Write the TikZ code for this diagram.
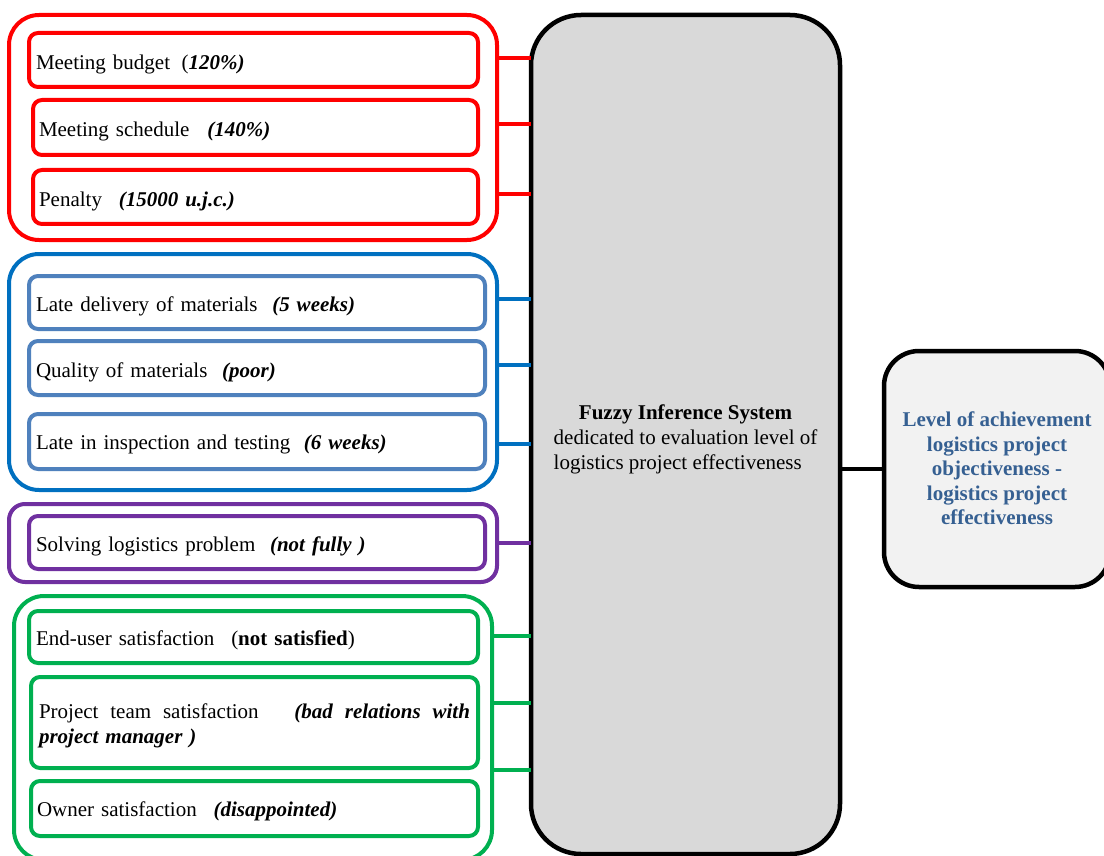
\documentclass[tikz,border=0pt]{standalone}
\usepackage{fontspec}
\setmainfont{Liberation Serif}
\definecolor{cRed}{HTML}{FF0000}
\definecolor{cBlue}{HTML}{0070C0}
\definecolor{cBlueIn}{HTML}{4F81BD}
\definecolor{cPurple}{HTML}{7030A0}
\definecolor{cGreen}{HTML}{00B050}
\definecolor{cFis}{HTML}{D9D9D9}
\definecolor{cRes}{HTML}{F2F2F2}
\definecolor{cResText}{HTML}{366092}
\newcommand{\emval}[1]{\textbf{\textit{#1}}}
% set text a little lower than the box centre
\newcommand{\lowered}[2]{\raisebox{-#1}[\height][\depth]{#2}}

\begin{document}
\begin{tikzpicture}[x=1pt,y=-1pt,
  every node/.style={font=\fontsize{21}{25}\selectfont, inner sep=0pt, outer sep=0pt},
  groupbox/.style={draw=#1, line width=4pt, rounded corners=30pt, fill=white},
  itembox/.style={draw=#1, line width=4pt, rounded corners=9pt, fill=white,
                  align=left, inner xsep=7pt},
  link/.style={draw=#1, line width=4pt},
]
\useasboundingbox (0,0) rectangle (1104,856);
\clip (0,0) rectangle (1104,856);

% central inference block and result block
\node[draw=black, line width=4.5pt, fill=cFis, rounded corners=50pt,
      minimum width=309pt, minimum height=839pt] (fis) at (685.5,434.5)
  {\lowered{5pt}{\begin{tabular}{@{}l@{}}
     \multicolumn{1}{@{}c@{}}{\textbf{Fuzzy Inference System}}\\
     dedicated to evaluation level of\\
     logistics project effectiveness
   \end{tabular}}};
\node[draw=black, line width=4.5pt, fill=cRes, rounded corners=35pt,
      minimum width=226pt, minimum height=236pt,
      text=cResText, font=\fontsize{21}{24.5}\selectfont\bfseries] (res) at (997,469)
  {\lowered{2pt}{\begin{tabular}{@{}c@{}}
     Level of achievement\\logistics project\\objectiveness -\\logistics project\\effectiveness
   \end{tabular}}};
\draw[link=black] (fis.east |- res.west) -- (res.west);

% group frames
\node[groupbox=cRed, minimum width=488pt, minimum height=225pt] (gred) at (253,127.5) {};
\node[groupbox=cBlue, minimum width=488pt, minimum height=236pt] (gblue) at (253,372) {};
\node[groupbox=cPurple, rounded corners=16pt, minimum width=488pt, minimum height=78pt] (gpurple) at (253,543) {};
\node[groupbox=cGreen, minimum width=478pt, minimum height=264pt] (ggreen) at (253,728) {};

% red items
\node[itembox=cRed, minimum width=449pt, minimum height=54pt, text width=435pt] (r1) at (253.5,60)
  {\lowered{4pt}{Meeting budget\hspace{0.55em}(\emval{120\%)}}};
\node[itembox=cRed, inner xsep=6pt, minimum width=445pt, minimum height=55pt, text width=433pt] (r2) at (255.5,127.5)
  {\lowered{4pt}{Meeting schedule\hspace{0.85em}\emval{(140\%)}}};
\node[itembox=cRed, inner xsep=6pt, minimum width=445pt, minimum height=54pt, text width=433pt] (r3) at (255.5,197)
  {\lowered{4pt}{Penalty\hspace{0.8em}\emval{(15000 u.j.c.)}}};

% blue items
\node[itembox=cBlueIn, minimum width=456pt, minimum height=53pt, text width=442pt] (b1) at (257,302.5)
  {\lowered{4pt}{Late delivery of materials\hspace{0.7em}\emval{(5 weeks)}}};
\node[itembox=cBlueIn, minimum width=456pt, minimum height=54pt, text width=442pt] (b2) at (257,368)
  {\lowered{4pt}{Quality of materials\hspace{0.7em}\emval{(poor)}}};
\node[itembox=cBlueIn, minimum width=456pt, minimum height=55pt, text width=442pt] (b3) at (257,441.5)
  {\lowered{3pt}{Late in inspection and testing\hspace{0.65em}\emval{(6 weeks)}}};

% purple item
\node[itembox=cPurple, minimum width=456pt, minimum height=53pt, text width=442pt] (p1) at (257,542.5)
  {\lowered{4pt}{Solving logistics problem\hspace{0.7em}\emval{(not fully )}}};

% green items
\node[itembox=cGreen, minimum width=449pt, minimum height=52pt, text width=435pt] (e1) at (253.5,637)
  {\lowered{3pt}{End-user satisfaction\hspace{0.8em}(\textbf{not satisfied})}};
\node[itembox=cGreen, inner xsep=8pt, minimum width=447pt, minimum height=91pt, text width=431pt] (e2) at (254.5,722.5)
  {\lowered{3pt}{\begin{tabular}{@{}l@{}}
     \hbox to 431pt{Project\hfill team\hfill satisfaction\hfill\hfill\hfill
       \emval{(bad}\hfill\emval{relations}\hfill\emval{with}}\\
     \emval{project manager )}
   \end{tabular}}};
\node[itembox=cGreen, inner xsep=6pt, minimum width=447pt, minimum height=55pt, text width=435pt] (e3) at (254.5,808.5)
  {\lowered{3pt}{Owner satisfaction\hspace{0.8em}\emval{(disappointed)}}};

% connector levels
\coordinate (l1) at (0,58);
\coordinate (l2) at (0,124);
\coordinate (l3) at (0,194);
\coordinate (l4) at (0,299);
\coordinate (l5) at (0,365);
\coordinate (l6) at (0,444);
\coordinate (l7) at (0,543);
\coordinate (l8) at (0,636);
\coordinate (l9) at (0,703);
\coordinate (l10) at (0,770);

\foreach \l in {l1,l2,l3}
  \draw[link=cRed] (gred.east |- \l) -- (fis.west |- \l);
\foreach \l in {l4,l5,l6}
  \draw[link=cBlue] (gblue.east |- \l) -- (fis.west |- \l);
\draw[link=cPurple] (gpurple.east |- l7) -- (fis.west |- l7);
\foreach \l in {l8,l9,l10}
  \draw[link=cGreen] (ggreen.east |- \l) -- (fis.west |- \l);
\end{tikzpicture}
\end{document}
